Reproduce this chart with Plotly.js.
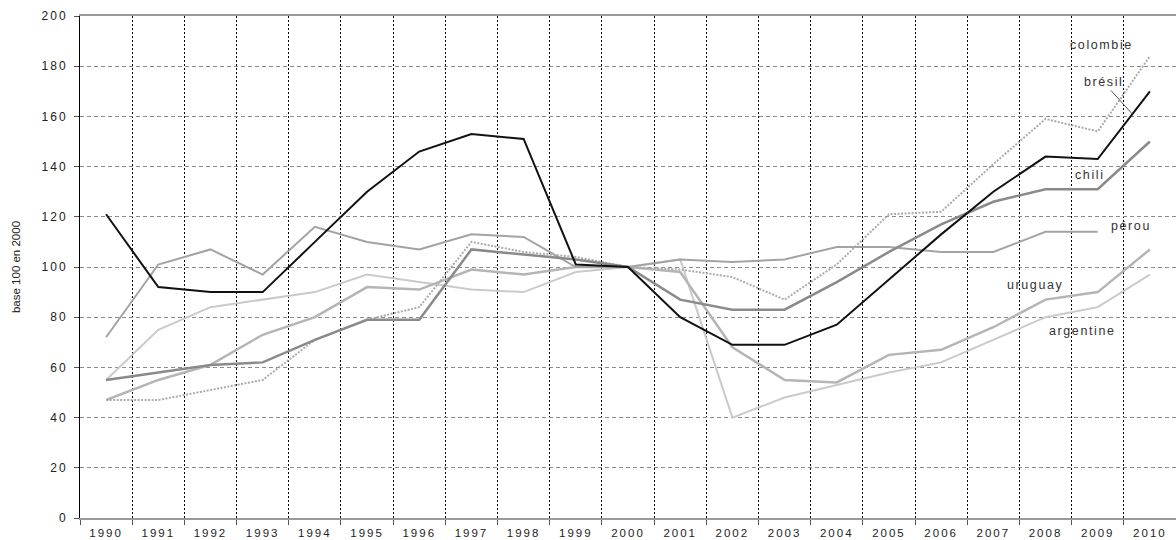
<!DOCTYPE html>
<html>
<head>
<meta charset="utf-8">
<script src="https://cdn.plot.ly/plotly-3.0.1.min.js"></script>
<style>
html,body{margin:0;padding:0;background:#fff;}
#chart{width:1176px;height:540px;}
.annotation-text{letter-spacing:1.6px;}
.xtick text,.ytick text{letter-spacing:2px;}
</style>
</head>
<body>
<div id="chart"></div>
<script>
const years = ['1990','1991','1992','1993','1994','1995','1996','1997','1998','1999','2000','2001','2002','2003','2004','2005','2006','2007','2008','2009','2010'];
const bresil    = [121, 92, 90, 90, 110, 130, 146, 153, 151, 101, 100, 80, 69, 69, 77, 95, 113, 130, 144, 143, 170];
const colombie  = [47, 47, 51, 55, 71, 79, 84, 110, 106, 104, 100, 99, 96, 87, 101, 121, 122, 141, 159, 154, 184];
const chili     = [55, 58, 61, 62, 71, 79, 79, 107, 105, 103, 100, 87, 83, 83, 94, 106, 117, 126, 131, 131, 150];
const perou     = [72, 101, 107, 97, 116, 110, 107, 113, 112, 100, 100, 103, 102, 103, 108, 108, 106, 106, 114, 114];
const uruguay   = [47, 55, 61, 73, 80, 92, 91, 99, 97, 100, 100, 98, 68, 55, 54, 65, 67, 76, 87, 90, 107];
const argentine = [55, 75, 84, 87, 90, 97, 94, 91, 90, 98, 100, 103, 40, 48, 53, 58, 62, 71, 80, 84, 97];
const yTicks = [0, 20, 40, 60, 80, 100, 120, 140, 160, 180, 200];
const yTitle = 'base 100 en 2000';

function tr(y, color, width, dash) {
  return {x: years.slice(0, y.length), y: y, type: 'scatter', mode: 'lines',
          line: {color: color, width: width, dash: dash || 'solid'}, hoverinfo: 'skip'};
}
const data = [
  tr(argentine, '#cacaca', 2),
  tr(uruguay, '#b5b5b5', 2.5),
  tr(perou, '#a3a3a3', 2),
  tr(colombie, '#ababab', 2, '2px,1.5px'),
  tr(chili, '#8a8a8a', 2.5),
  tr(bresil, '#111111', 2)
];
const lblFont = {family: 'Liberation Sans, Arial, sans-serif', size: 12.5, color: '#333'};
const layout = {
  width: 1176, height: 540,
  margin: {l: 80, r: 0, t: 16, b: 22},
  paper_bgcolor: '#fff', plot_bgcolor: '#fff',
  showlegend: false,
  font: {family: 'Liberation Sans, Arial, sans-serif', size: 12, color: '#222'},
  xaxis: {
    type: 'category', tickson: 'boundaries',
    range: [-0.5, 20.5],
    showgrid: true, gridcolor: '#000', gridwidth: 1, griddash: '2px,2px',
    showline: true, linecolor: '#9a9a9a', linewidth: 2, mirror: true,
    ticks: 'outside', ticklen: 5, tickcolor: '#555', ticklabelstandoff: 3,
    tickfont: {size: 11.5, color: '#222'}, zeroline: false
  },
  yaxis: {
    range: [0, 200], tickvals: yTicks, ticktext: yTicks.map(String),
    showgrid: true, gridcolor: '#8c8c8c', gridwidth: 1, griddash: '4px,3px',
    showline: true, linecolor: '#000', linewidth: 1,
    ticks: 'outside', ticklen: 5, tickcolor: '#555', ticklabelstandoff: 4,
    tickfont: {size: 12, color: '#222'}, zeroline: false,
    title: {text: yTitle, font: {size: 11.5, color: '#222'}, standoff: 18}
  },
  annotations: [
    {x: 19.08, y: 188.4, xref: 'x', yref: 'y', text: 'colombie', showarrow: false, font: lblFont},
    {x: 19.66, y: 161, xref: 'x', yref: 'y', text: 'brésil', showarrow: true, arrowhead: 0,
     arrowwidth: 1, arrowcolor: '#555', ax: -29, ay: -32, standoff: 0, font: lblFont},
    {x: 18.85, y: 136.7, xref: 'x', yref: 'y', text: 'chili', showarrow: false, font: lblFont},
    {x: 19.64, y: 116.3, xref: 'x', yref: 'y', text: 'pérou', showarrow: false, font: lblFont},
    {x: 17.80, y: 92.8, xref: 'x', yref: 'y', text: 'uruguay', showarrow: false, font: lblFont},
    {x: 18.71, y: 74.6, xref: 'x', yref: 'y', text: 'argentine', showarrow: false, font: lblFont}
  ]
};
Plotly.newPlot('chart', data, layout, {staticPlot: true, displayModeBar: false});
</script>
</body>
</html>
